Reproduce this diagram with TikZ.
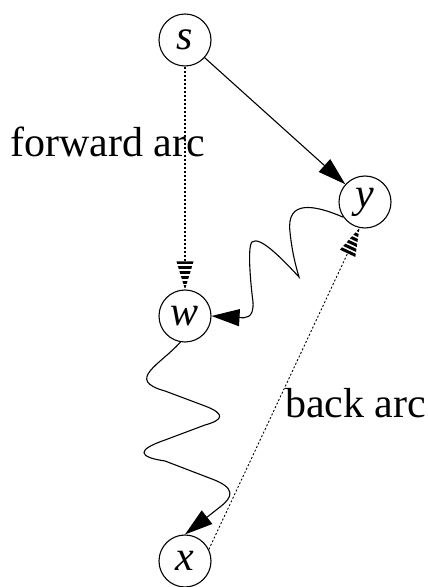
\documentclass[tikz,border=0pt]{standalone}
\usepackage{fontspec}
\setmainfont{Liberation Serif}
\newfontfamily\vertexfont{Liberation Serif Italic}
\usetikzlibrary{arrows.meta,calc}

% striped (dashed-fill) arrow head: #1 = a point behind the tip, #2 = tip
\newcommand{\stripedhead}[2]{%
  \begin{scope}
    \path (#2) coordinate (sh-t) ($(#2)!28pt!(#1)$) coordinate (sh-b);
    \clip ($(sh-b)!8.5pt!90:(sh-t)$) -- ($(sh-b)!8.5pt!-90:(sh-t)$) -- (sh-t) -- cycle;
    \draw[line width=20pt, dash pattern=on 3pt off 1.8pt] (sh-b) -- (sh-t);
  \end{scope}}

\begin{document}
\begin{tikzpicture}[x=1pt,y=1pt,
  vertex/.style={circle, draw, line width=1.1pt, minimum size=52pt, inner sep=0pt,
                 font=\vertexfont\fontsize{42}{46}\selectfont},
  label/.style={font=\fontsize{42}{46}\selectfont, inner sep=0pt},
  solidarc/.style={line width=1.1pt, -{Triangle[length=28pt,width=17pt]}},
  wave/.style={line width=1.1pt, -{Triangle[length=28pt,width=17pt]}},
  fwdarc/.style={line width=1.4pt, dash pattern=on 2pt off 2pt},
  backarc/.style={line width=0.9pt, dash pattern=on 2pt off 2pt}]
  \useasboundingbox (0,0) rectangle (428,587);

  % vertices
  \node[vertex] (s) at (185,547) {s};
  \node[vertex] (y) at (365,385) {y};
  \node[vertex] (w) at (185,271) {w};
  \node[vertex] (x) at (185,26)  {x};

  % labels
  \node[label, anchor=base west] (fwd) at (10,430) {forward arc};
  \node[label, anchor=base west] (bck) at (285,169) {back arc};

  % tree edge s -> y
  \draw[solidarc] (s) -- (y);

  % forward arc s -> w (dotted, striped head)
  \coordinate (ft) at (w.north);
  \coordinate (fb) at ($(ft)!28pt!(s.south)$);
  \draw[fwdarc] (s.south) -- (fb);
  \stripedhead{s.south}{ft}

  % back arc x -> y (dotted, striped head)
  \coordinate (bt) at (y.-102);
  \coordinate (bb) at ($(bt)!28pt!(x.26)$);
  \draw[backarc] (x.26) -- (bb);
  \stripedhead{x.26}{bt}

  % wavy path y -> w
  \draw[wave] (y.-145)
    .. controls (315,382) and (286,388) .. (290,355)
    .. controls (292,335) and (296,320) .. (299,310)
    .. controls (285,325) and (260,352) .. (252,345)
    .. controls (247,340) and (251,300) .. (253,285)
    .. controls (254,268) and (245,269) .. (w.east);

  % wavy path w -> x
  \draw[wave] (w.-100)
    .. controls (160,222) and (125,207) .. (165,196)
    -- (205,181)
    .. controls (226,173) and (223,167) .. (205,162)
    -- (165,147)
    .. controls (136,137) and (138,130) .. (165,126)
    -- (212,108)
    .. controls (236,99) and (233,90) .. (220,80)
    -- (x.north);
\end{tikzpicture}
\end{document}
